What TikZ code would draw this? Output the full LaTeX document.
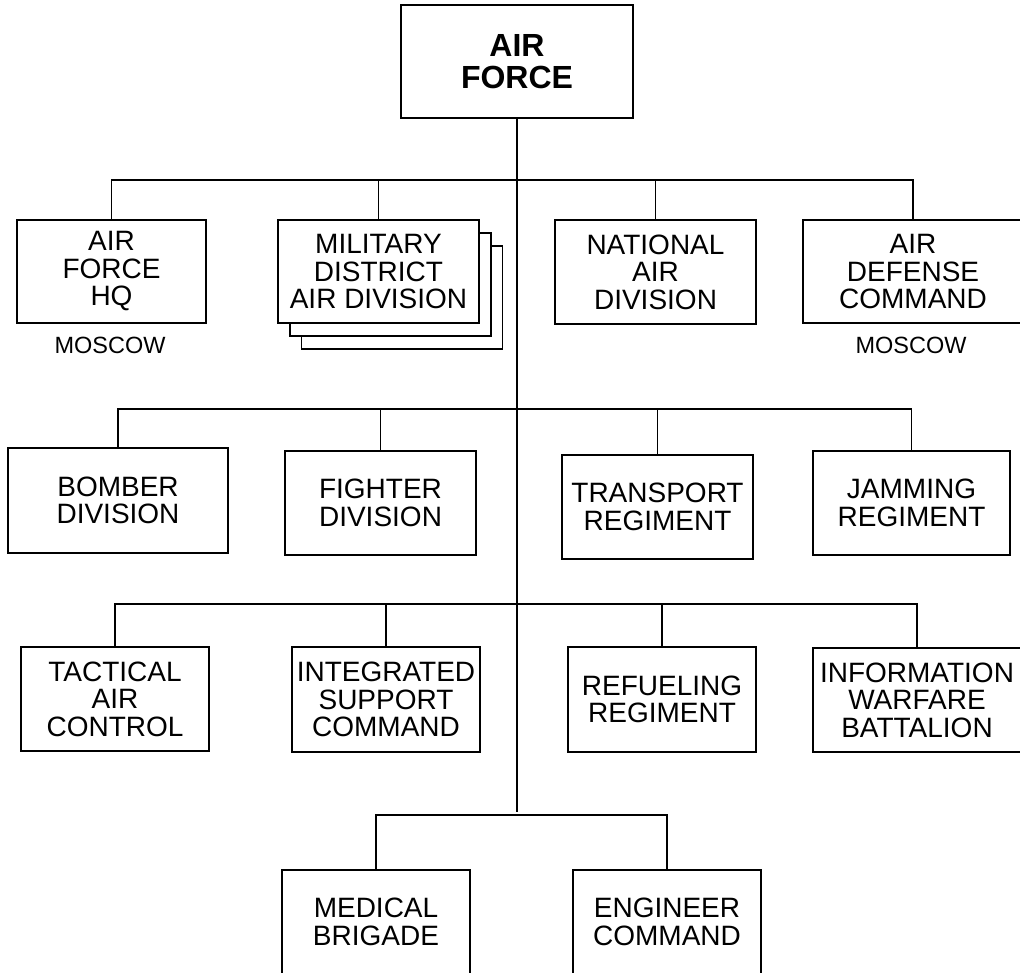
\documentclass[tikz,border=0pt]{standalone}
\usepackage{fontspec}
\setmainfont{Liberation Sans}
\begin{document}
\begin{tikzpicture}[x=1pt,y=-1pt,line width=1.3pt,
  box/.style={draw, fill=white, align=center, inner sep=0pt, minimum height=104pt,
    font=\fontsize{28}{27.5}\selectfont},
  titlebox/.style={box, font=\bfseries\fontsize{32}{32}\selectfont},
  place/.style={inner sep=0pt, font=\fontsize{23.5}{24}\selectfont},
  link/.style={draw, line width=1.3pt}]
\clip (0,0) rectangle (1020,972);
\useasboundingbox (0,0) rectangle (1020,972);
% top
\node[titlebox, minimum width=232pt, minimum height=113pt] (af) at (517,61.5) {AIR\\FORCE};
% row 1
\node[box, minimum width=189pt, minimum height=103pt] (hq) at (111.5,271.5) {AIR\\FORCE\\HQ};
\node[box, minimum width=201pt, minimum height=103pt] (mil3) at (402,297.5) {};
\node[box, minimum width=201pt, minimum height=103pt] (mil2) at (390.5,284.5) {};
\node[box, minimum width=201pt, minimum height=103pt] (mil) at (378.5,271.5) {MILITARY\\DISTRICT\\AIR DIVISION};
\node[box, minimum width=201pt] (nat) at (655.5,272) {NATIONAL\\AIR\\DIVISION};
\node[box, minimum width=220pt, minimum height=103pt] (adc) at (913,271.5) {AIR\\DEFENSE\\COMMAND};
\node[place] (mos1) at (110,345) {MOSCOW};
\node[place] (mos2) at (911,345) {MOSCOW};
% row 2
\node[box, minimum width=220pt, minimum height=105pt] (bom) at (118,500.5) {BOMBER\\DIVISION};
\node[box, minimum width=191pt] (fig) at (380.5,503) {FIGHTER\\DIVISION};
\node[box, minimum width=191pt] (tra) at (657.5,507) {TRANSPORT\\REGIMENT};
\node[box, minimum width=197pt] (jam) at (911.5,503) {JAMMING\\REGIMENT};
% row 3
\node[box, minimum width=188pt] (tac) at (115,699) {TACTICAL\\AIR\\CONTROL};
\node[box, minimum width=188pt, minimum height=105pt] (int) at (386,699.5) {INTEGRATED\\SUPPORT\\COMMAND};
\node[box, minimum width=188pt, minimum height=105pt] (ref) at (662,699.5) {REFUELING\\REGIMENT};
\node[box, minimum width=208pt] (inf) at (917,700) {INFORMATION\\WARFARE\\BATTALION};
% row 4
\node[box, minimum width=188pt] (med) at (376,922) {MEDICAL\\BRIGADE};
\node[box, minimum width=188pt] (eng) at (667,922) {ENGINEER\\COMMAND};
% connectors
\coordinate (b1) at (517,180);
\coordinate (b2) at (517,409);
\coordinate (b3) at (517,604);
\coordinate (b4) at (517,815);
\coordinate (tend) at (517,812);
\path[link] (af.south) -- (tend);
\path[link] (hq.north) |- (b1) -| (adc.north);
\path[link] (mil.north) |- (b1);
\path[link] (nat.north) |- (b1);
\path[link] (bom.north) |- (b2) -| (jam.north);
\path[link] (fig.north) |- (b2);
\path[link] (tra.north) |- (b2);
\path[link] (tac.north) |- (b3) -| (inf.north);
\path[link] (int.north) |- (b3);
\path[link] (ref.north) |- (b3);
\path[link] (med.north) |- (b4) -| (eng.north);
\end{tikzpicture}
\end{document}
